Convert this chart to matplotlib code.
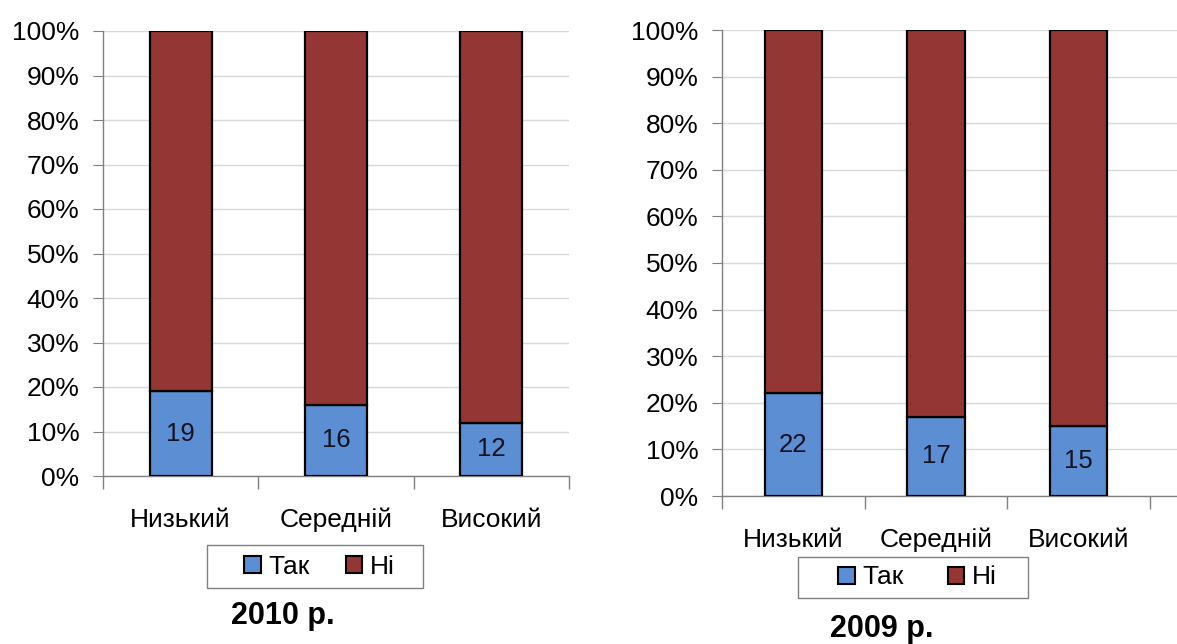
import matplotlib
matplotlib.use("Agg")
import matplotlib.pyplot as plt
from matplotlib.patches import Patch, Rectangle
import numpy as np

categories = ["Низький", "Середній", "Високий"]
yes_2010 = [19, 16, 12]
yes_2009 = [22, 17, 15]
series_names = ["Так", "Ні"]
titles = ["2010 р.", "2009 р."]
yticks = [0, 10, 20, 30, 40, 50, 60, 70, 80, 90, 100]

BLUE = "#5B8ED2"
RED = "#943634"
FONT = "Liberation Sans"

plt.rcParams["font.family"] = [FONT, "DejaVu Sans"]

W, H = 1177, 644
fig = plt.figure(figsize=(W / 100, H / 100), dpi=100)


def fx(px):
    return px / W


def fy(py):
    return 1 - py / H


def draw(ax, yes, xmax, title, title_xy, box, items_cx, colspace):
    x = np.arange(len(categories))
    yes = np.array(yes, dtype=float)
    no = 100 - yes
    ax.bar(x, yes, width=0.4, color=BLUE, edgecolor="black", linewidth=1.6, zorder=3)
    ax.bar(x, no, width=0.4, bottom=yes, color=RED, edgecolor="black", linewidth=1.6, zorder=3)
    for xi, v in zip(x, yes):
        ax.text(xi, v / 2, f"{int(v)}", ha="center", va="center", fontsize=18.5,
                color="#111122", zorder=4)
    ax.set_xlim(-0.5, xmax)
    ax.set_ylim(0, 100)
    ax.set_yticks(yticks)
    ax.set_yticklabels([f"{t}%" for t in yticks], fontsize=19)
    ax.yaxis.grid(True, color="#D9D9D9", linewidth=1.0, zorder=0)
    ax.set_axisbelow(True)
    for s in ["top", "right"]:
        ax.spines[s].set_visible(False)
    for s in ["left", "bottom"]:
        ax.spines[s].set_color("#808080")
        ax.spines[s].set_linewidth(1.0)
    ax.tick_params(axis="y", length=7, color="#808080", pad=10)
    ax.set_xticks(x)
    ax.set_xticklabels(categories, fontsize=19)
    ax.tick_params(axis="x", which="major", length=0, pad=23)
    ax.set_xticks([-0.5, 0.5, 1.5, 2.5], minor=True)
    ax.tick_params(axis="x", which="minor", length=9, color="#808080", width=1.0)

    # legend frame
    x0, y0, x1, y1 = box
    fig.add_artist(Rectangle((fx(x0), fy(y1)), fx(x1) - fx(x0), fy(y0) - fy(y1),
                             transform=fig.transFigure, facecolor="white",
                             edgecolor="#808080", linewidth=1.0, zorder=5))
    handles = [Patch(facecolor=BLUE, edgecolor="black", linewidth=1.5),
               Patch(facecolor=RED, edgecolor="black", linewidth=1.5)]
    leg = fig.legend(handles, series_names, loc="center",
                     bbox_to_anchor=(fx(items_cx), fy((y0 + y1) / 2)),
                     ncol=2, fontsize=19, frameon=False,
                     handlelength=0.62, handleheight=0.62, handletextpad=0.3,
                     columnspacing=colspace, borderpad=0.0)
    leg.set_zorder(6)
    fig.text(title_xy[0], title_xy[1], title, ha="center", va="center",
             fontsize=22, fontweight="bold")


ax1 = fig.add_axes([fx(103), fy(476), fx(569) - fx(103), fy(31) - fy(476)])
draw(ax1, yes_2010, 2.5, titles[0], (fx(283), fy(616)),
     (207, 545, 423, 588), 319.5, 1.35)

ax2 = fig.add_axes([fx(722), fy(496), 1 - fx(722), fy(30) - fy(496)])
draw(ax2, yes_2009, 2.5 + 27 / 142.7, titles[1], (fx(882), fy(629)),
     (798, 557, 1028, 598), 917.5, 1.65)

fig.savefig("out.png", dpi=100)
